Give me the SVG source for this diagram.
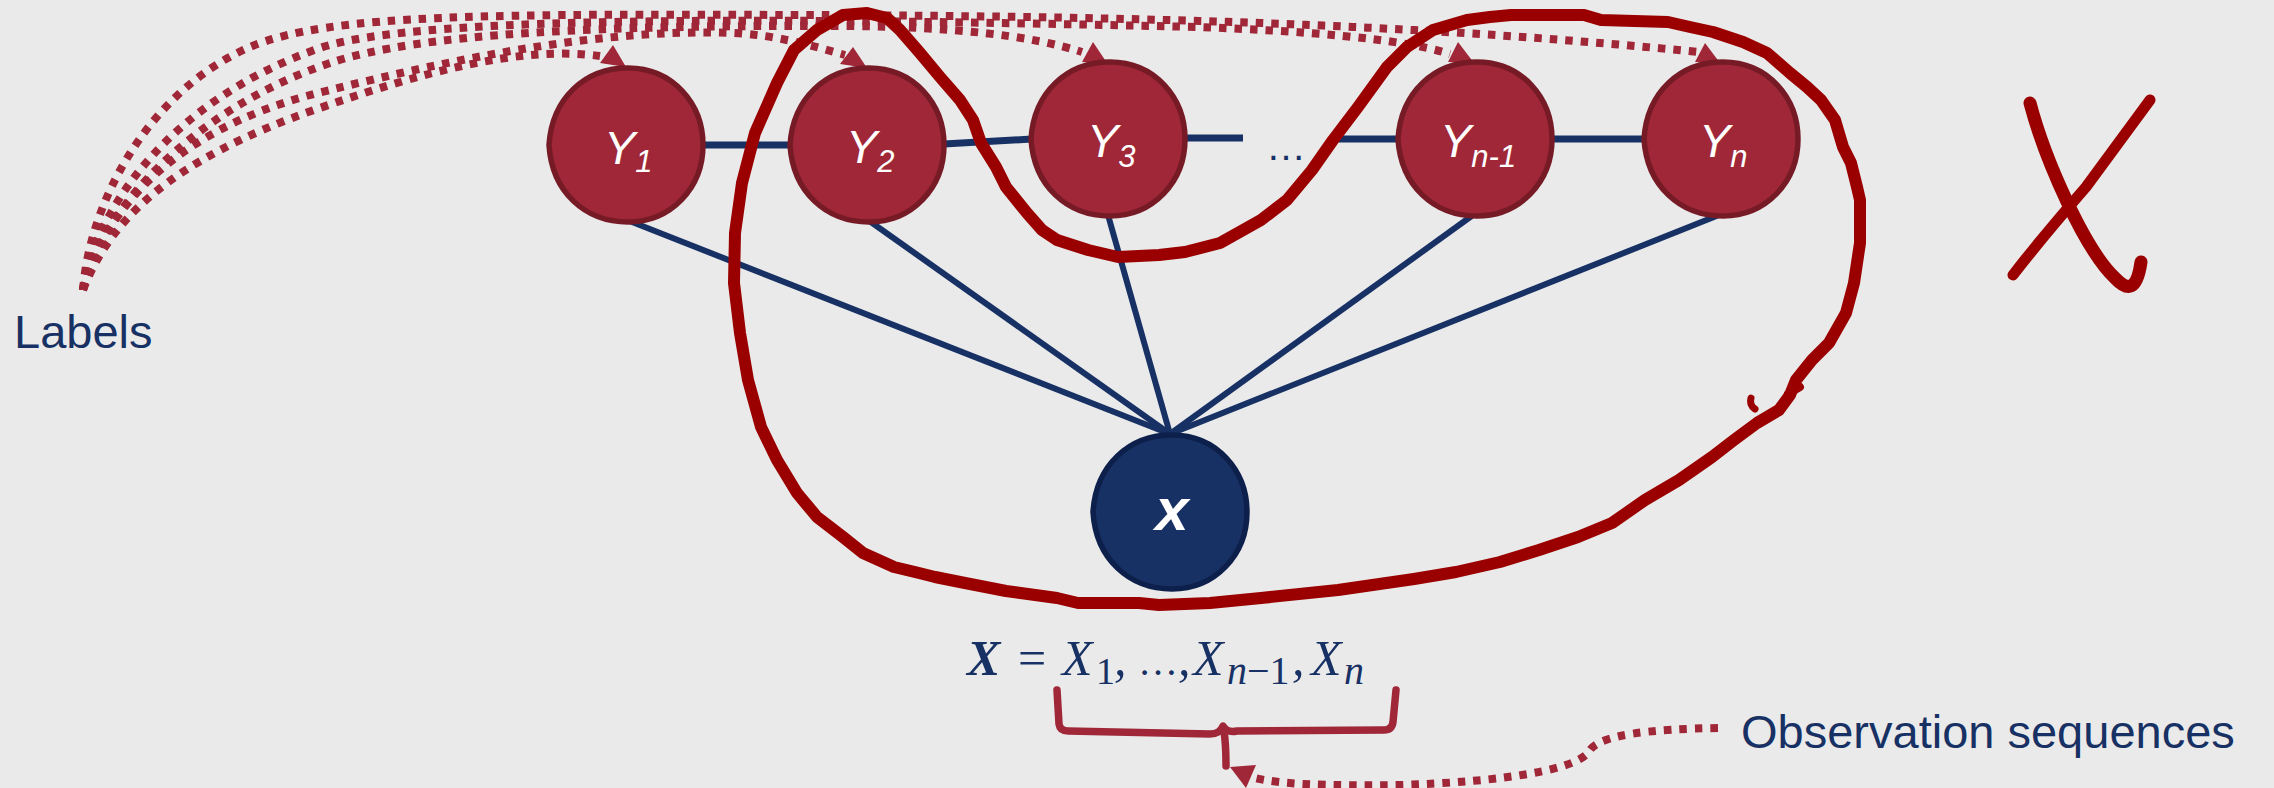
<svg xmlns="http://www.w3.org/2000/svg" xmlns:xlink="http://www.w3.org/1999/xlink" width="2274" height="788" viewBox="0 0 2274 788">
<defs>
<style>
.bg{fill:#EAEAEA}
.yn{fill:#A02737;stroke:#761B26;stroke-width:5.5}
.xn{fill:#173164;stroke:#0D1F4B;stroke-width:5.5}
.edge{stroke:#173164;stroke-width:6;fill:none}
.hedge{stroke:#173164;stroke-width:7;fill:none}
.dot{stroke:#A02737;stroke-width:8;stroke-dasharray:7.5 8;fill:none}
.tri{fill:#A02737}
.free{stroke:#9B0000;stroke-width:12;fill:none;stroke-linecap:round;stroke-linejoin:round}
.lbl{font-family:"Liberation Sans",Arial,sans-serif;fill:#FFFFFF;font-style:italic;font-size:47px}
.sub{font-size:31px}
.cap{font-family:"Liberation Sans",Arial,sans-serif;fill:#173164;font-size:47px}
.math{font-family:"Liberation Serif","Times New Roman",serif;fill:#173164;font-size:50px;font-style:italic}
.brace{stroke:#A02737;stroke-width:7.5;fill:none;stroke-linejoin:round;stroke-linecap:round}
</style>
<path id="egg" d="M-77,0 C-74,-47 -41,-77 2,-77 C47,-77 77,-41 77,0 C77,43 45,77 2,77 C-41,77 -74,47 -77,0 Z"/>
</defs>
<rect class="bg" x="0" y="0" width="2274" height="788"/>

<g id="connectors">
<line class="hedge" x1="703" y1="145" x2="790" y2="145"/>
<line class="hedge" x1="944" y1="144" x2="1032" y2="139"/>
<line class="hedge" x1="1185" y1="138" x2="1243" y2="138"/>
<line class="hedge" x1="1333" y1="139" x2="1399" y2="139"/>
<line class="hedge" x1="1552" y1="139" x2="1645" y2="139"/>
<line class="edge" x1="627" y1="220" x2="1170" y2="434"/>
<line class="edge" x1="868" y1="220" x2="1170" y2="434"/>
<line class="edge" x1="1108" y1="215" x2="1170" y2="434"/>
<line class="edge" x1="1473" y1="215" x2="1170" y2="434"/>
<line class="edge" x1="1719" y1="215" x2="1170" y2="434"/>
<path class="dot" d="M83,290 C90,200 150,90 250,47 C330,13 500,14 800,15 C1100,16 1400,22 1698,52"/>
<path class="dot" d="M83,290 C95,210 170,100 320,48 C420,14 800,18 1200,27 C1300,31 1400,38 1450,54"/>
<path class="dot" d="M83,290 C98,215 190,110 330,63 C420,33 600,25 850,26 C950,27 1030,35 1082,52"/>
<path class="dot" d="M83,290 C110,190 200,120 330,90 C450,60 600,28 733,33 C775,35 810,45 845,55"/>
<path class="dot" d="M83,290 C110,220 170,160 317,109 C420,73 520,45 600,56"/>
<polygon class="tri" points="613,45 600,63 626,67"/>
<polygon class="tri" points="853,47 840,64 867,68"/>
<polygon class="tri" points="1093,42 1082,62 1107,63"/>
<polygon class="tri" points="1458,42 1448,62 1474,63"/>
<polygon class="tri" points="1705,43 1695,62 1720,63"/>
<path class="dot" d="M1718,728 C1650,729 1600,735 1590,750 C1580,770 1500,782 1400,785 C1320,786 1280,784 1255,778"/>
<polygon class="tri" points="1230,767 1256,765 1246,788"/>
</g>

<g id="node-y1"><use href="#egg" x="626" y="145" class="yn"/><text class="lbl" x="604" y="164">Y<tspan class="sub" dy="8">1</tspan></text></g>
<g id="node-y2"><use href="#egg" x="867" y="145" class="yn"/><text class="lbl" x="846" y="163">Y<tspan class="sub" dy="9">2</tspan></text></g>
<g id="node-y3"><use href="#egg" x="1108" y="139" class="yn"/><text class="lbl" x="1087" y="157">Y<tspan class="sub" dy="10">3</tspan></text></g>
<g id="node-yn1"><use href="#egg" x="1475" y="139" class="yn"/><text class="lbl" x="1440" y="157">Y<tspan class="sub" dy="10">n-1</tspan></text></g>
<g id="node-yn"><use href="#egg" x="1721" y="139" class="yn"/><text class="lbl" x="1699" y="157">Y<tspan class="sub" dy="10">n</tspan></text></g>
<g id="node-x"><use href="#egg" x="1170" y="512" class="xn"/><text x="1172" y="530" text-anchor="middle" style="font-family:'Liberation Sans',Arial,sans-serif;font-size:60px;font-weight:bold;font-style:italic;fill:#FFFFFF">x</text></g>

<g id="ellipsis"><text class="cap" x="1266" y="160" style="font-size:40px">…</text></g>

<g id="label-labels"><text class="cap" x="14" y="348">Labels</text></g>
<g id="label-obs"><text class="cap" x="1741" y="748">Observation sequences</text></g>

<g id="formula">
<text class="math" y="675"><tspan x="967" font-weight="bold">X</tspan><tspan x="1018" font-style="normal">=</tspan><tspan x="1062">X</tspan><tspan x="1096" y="684" font-size="38" font-style="normal">1</tspan><tspan x="1114" y="675">,</tspan><tspan x="1138" font-style="normal" font-size="40">…</tspan><tspan x="1178">,</tspan><tspan x="1193">X</tspan><tspan x="1227" y="684" font-size="40">n</tspan><tspan font-style="normal" font-size="40">−1</tspan><tspan x="1292" y="675">,</tspan><tspan x="1311">X</tspan><tspan x="1344" y="684" font-size="40">n</tspan></text>
</g>

<g id="brace">
<path class="brace" d="M1057,690 L1059,724 Q1060,731 1068,731 L1210,734 Q1220,734 1223,726 Q1227,733 1237,731 L1384,730 Q1392,730 1393,722 L1396,690"/>
<path class="brace" d="M1224,731 Q1226,745 1226,766"/>
</g>

<g id="freehand">
<path class="free" d="M1829,343 L1812,360 L1796,380 L1790,395 L1779,410 L1757,423 L1734,440 L1712,457 L1679,480 L1645,500 L1612,523 L1578,537 L1539,550 L1500,562 L1456,572 L1414,579 L1338,590 L1261,598 L1210,603 L1159,605 L1139,603 L1078,603 L1057,598 L1006,591 L965,583 L935,577 L919,573 L894,567 L863,553 L843,537 L817,517 L797,493 L777,460 L761,427 L748,380 L740,333 L734,283 L735,233 L742,183 L755,133 L777,83 L794,50 L817,30 L843,15 L867,13 L887,18 L900,30 L920,53 L940,77 L960,100 L973,120 L981,143 L996,167 L1006,187 L1027,213 L1042,230 L1057,240 L1088,250 L1118,257 L1159,255 L1185,252 L1220,243 L1261,220 L1287,200 L1312,170 L1333,140 L1358,107 L1387,67 L1407,47 L1433,30 L1467,20 L1490,17 L1511,15 L1584,15 L1601,20 L1668,22 L1690,27 L1713,32 L1743,42 L1767,53 L1790,73 L1807,87 L1821,100 L1835,120 L1843,147 L1851,163 L1857,187 L1860,200 L1860,243 L1854,283 L1846,313 L1829,343"/>
<path class="free" style="stroke-width:7" d="M1751,398 Q1749,405 1755,409"/>
<path class="free" style="stroke-width:8" d="M1788,394 L1800,387"/>
<path class="free" style="stroke-width:13" d="M2030,103 C2045,160 2085,250 2115,278 C2128,292 2137,290 2141,262"/>
<path class="free" style="stroke-width:11" d="M2150,100 L2086,187 Q2040,240 2013,275"/>
</g>
</svg>
